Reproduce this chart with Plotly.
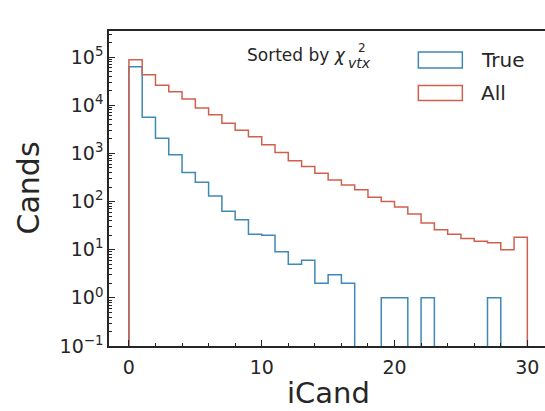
import plotly.graph_objects as go

# ---- data ----
bin_edges = list(range(0, 31))
true_counts = [63000, 5600, 2050, 940, 400, 250, 130, 63, 42, 21,
               20, 9, 5, 6, 2, 3, 2, 0, 0, 1,
               1, 0, 1, 0, 0, 0, 0, 1, 0, 0]
all_counts = [88000, 43000, 26000, 19000, 13500, 8700, 6300, 4200, 3000, 2200,
              1500, 1040, 700, 530, 385, 280, 220, 175, 123, 100,
              77, 55, 36, 26, 21, 17, 15, 14, 10, 18]
x_ticks = [0, 10, 20, 30]
y_exponents = [-1, 0, 1, 2, 3, 4, 5]
y_ticks = [10.0 ** e for e in y_exponents]
y_ticktext = ["10<sup>%s</sup>" % (str(e).replace("-", "−")) for e in y_exponents]
y_minor = [k * 10.0 ** e for e in range(-1, 6) for k in range(2, 10)]

BLUE = "#3f89b6"
RED = "#d0604e"
AX = "#262626"
FLOOR = 1e-3  # empty bins drawn down below the axis (clipped), like a step histogram


def step_xy(edges, counts):
    ys = [c if c > 0 else FLOOR for c in counts]
    xs = [edges[0]] + edges[:-1] + [edges[-1], edges[-1]]
    yy = [FLOOR] + ys + [ys[-1], FLOOR]
    return xs, yy


fig = go.Figure()
for name, counts, col in [("True", true_counts, BLUE), ("All", all_counts, RED)]:
    xs, ys = step_xy(bin_edges, counts)
    fig.add_trace(go.Scatter(x=xs, y=ys, mode="lines", line_shape="hv",
                             line=dict(color=col, width=1.5), name=name,
                             showlegend=False, hoverinfo="skip"))

font = "DejaVu Sans"
fig.update_layout(
    width=545, height=411,
    margin=dict(l=109, r=0, t=31, b=65),
    paper_bgcolor="white", plot_bgcolor="white",
    font=dict(family=font, color=AX),
    xaxis=dict(range=[-1.5, 31.33], tickvals=x_ticks, ticks="inside", ticklen=6,
               tickwidth=1.2, tickcolor=AX, showline=True, linecolor=AX, linewidth=1.6,
               mirror=True, showgrid=False, zeroline=False, ticklabelstandoff=3,
               tickfont=dict(size=19, family=font, color=AX),
               minor=dict(dtick=2, tick0=0, ticks="inside", ticklen=3, tickcolor=AX,
                          tickwidth=1, showgrid=False)),
    yaxis=dict(type="log", range=[-1, 5.54], tickvals=y_ticks, ticktext=y_ticktext,
               ticks="inside", ticklen=6, tickwidth=1.2, tickcolor=AX,
               showline=True, linecolor=AX, linewidth=1.6, mirror=False,
               showgrid=False, zeroline=False,
               tickfont=dict(size=19, family=font, color=AX),
               minor=dict(tickvals=y_minor, ticks="inside", ticklen=3, tickcolor=AX,
                          tickwidth=1, showgrid=False)),
)

# legend drawn as outlined boxes (step-histogram patches)
legend_items = [("True", BLUE, 0.8823, 0.9332, 0.9087),
                ("All", RED, 0.7793, 0.8270, 0.8038)]
for label, col, y0, y1, yc in legend_items:
    fig.add_shape(type="rect", xref="paper", yref="paper", x0=0.7095, x1=0.8104,
                  y0=y0, y1=y1, line=dict(color=col, width=1.5), fillcolor="rgba(0,0,0,0)")
    fig.add_annotation(text=label, xref="paper", yref="paper", x=0.8494, y=yc,
                       xanchor="left", yanchor="middle", showarrow=False,
                       font=dict(size=20, family=font, color=AX))


# "Sorted by chi^2_vtx"  (stacked super/subscript placed beside the chi)
def px_x(px):
    return (px - 109) / 436.0


def px_y(py):
    return (345.7 - py) / 314.7


fig.add_annotation(text="Sorted by <i>χ</i>", xref="paper", yref="paper",
                   x=px_x(348), y=px_y(55), xanchor="right", yanchor="middle",
                   showarrow=False, font=dict(size=17, family=font, color=AX))
fig.add_annotation(text="2", xref="paper", yref="paper", x=px_x(357), y=px_y(47.5),
                   xanchor="left", yanchor="middle", showarrow=False, borderpad=0,
                   font=dict(size=12, family=font, color=AX))
fig.add_annotation(text="<i>vtx</i>", xref="paper", yref="paper", x=px_x(347), y=px_y(63),
                   xanchor="left", yanchor="middle", showarrow=False, borderpad=0,
                   font=dict(size=14, family=font, color=AX))

# axis titles
fig.add_annotation(text="Cands", xref="paper", yref="paper", x=px_x(28), y=0.5,
                   textangle=-90, xanchor="center", yanchor="middle", showarrow=False,
                   font=dict(size=30, family=font, color=AX))
fig.add_annotation(text="iCand", xref="x", yref="paper", x=15, y=px_y(393),
                   xanchor="center", yanchor="middle", showarrow=False,
                   font=dict(size=29, family=font, color=AX))

fig.write_html("out.html")
